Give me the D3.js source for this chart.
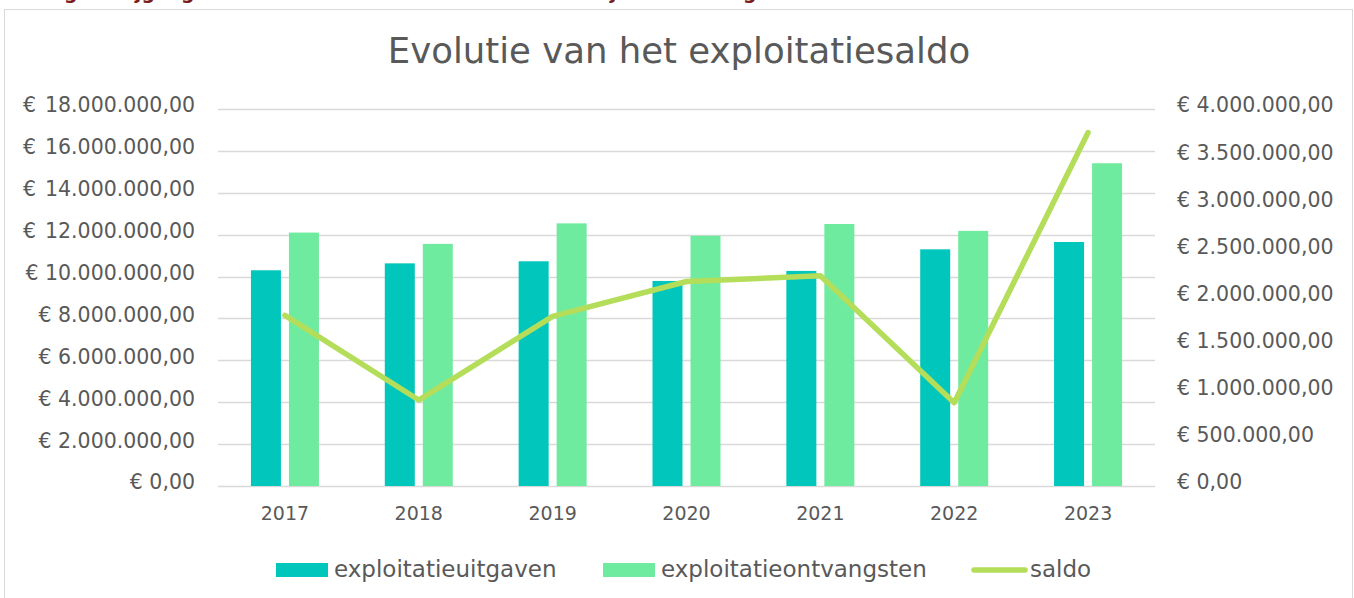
<!DOCTYPE html>
<html>
<head>
<meta charset="utf-8">
<script src="https://cdn.jsdelivr.net/npm/d3@7"></script>
<style>
    body { margin: 0; background: #fff; }
    svg { display: block; }
    text { font-family: "DejaVu Sans", sans-serif; fill: #595959; }
</style>
</head>
<body>
<div class="wrapper"></div>
<script>
let width = 1354;
let height = 598;

// data
let years = ["2017", "2018", "2019", "2020", "2021", "2022", "2023"];
let uitgaven = [10300000, 10630000, 10730000, 9790000, 10270000, 11300000, 11650000];
let ontvangsten = [12100000, 11560000, 12540000, 11950000, 12510000, 12180000, 15410000];
let saldo = [1810000, 912000, 1800000, 2170000, 2230000, 884000, 3750000];

let leftTicks = [0, 2e6, 4e6, 6e6, 8e6, 10e6, 12e6, 14e6, 16e6, 18e6];
let rightTicks = [0, 5e5, 1e6, 1.5e6, 2e6, 2.5e6, 3e6, 3.5e6, 4e6];

let seriesNames = ["exploitatieuitgaven", "exploitatieontvangsten", "saldo"];
let colors = ["#01c6bc", "#6feba0", "#b4dd5a"];

let plot = {left: 218, right: 1155, top: 109, bottom: 486};
let labelSize = "20.5px";

let nl = d3.formatLocale({decimal: ",", thousands: ".", grouping: [3], currency: ["€ ", ""]});
let euro = nl.format("$,.2f");
let num = nl.format(",.2f");

let svg = d3.select(".wrapper")
    .append("svg")
    .attr("width", width)
    .attr("height", height);

// cut-off heading above the chart frame (only descenders visible)
svg.append("text")
    .attr("y", -1)
    .style("fill", "#7a1c1c")
    .style("font-weight", "bold")
    .style("font-size", "19px")
    .selectAll("tspan")
    .data([["g", 64], ["jg", 135], ["g", 181], ["j", 610], ["g", 743]])
    .enter()
    .append("tspan")
    .attr("x", function (d) {return d[1]})
    .text(function (d) {return d[0]});

// chart frame
svg.append("rect")
    .attr("x", 4.5)
    .attr("y", 9.5)
    .attr("width", 1348)
    .attr("height", 600)
    .attr("fill", "#fff")
    .attr("stroke", "#d9d9d9");

svg.append("text")
    .attr("x", 679)
    .attr("y", 63)
    .attr("text-anchor", "middle")
    .style("font-size", "35.5px")
    .text("Evolutie van het exploitatiesaldo");

let x = d3.scaleBand()
    .domain(years)
    .range([plot.left, plot.right])
    .paddingInner(0.492)
    .paddingOuter(0.246);

let x1 = d3.scaleBand()
    .domain([0, 1])
    .range([0, x.bandwidth()])
    .paddingInner(8 / 38);

let yLeft = d3.scaleLinear().domain([0, 18e6]).range([plot.bottom, plot.top]);
let yRight = d3.scaleLinear().domain([0, 4e6]).range([plot.bottom, plot.top]);

// gridlines
svg.append("g")
    .selectAll("line")
    .data(leftTicks)
    .enter()
    .append("line")
    .attr("x1", plot.left)
    .attr("x2", plot.right)
    .attr("y1", function (d) {return Math.round(yLeft(d)) + 0.5})
    .attr("y2", function (d) {return Math.round(yLeft(d)) + 0.5})
    .attr("stroke", "#d9d9d9")
    .attr("stroke-width", 1.5);

// left axis labels
let leftLabels = svg.append("g")
    .selectAll("g")
    .data(leftTicks)
    .enter()
    .append("g")
    .attr("transform", function (d) {return "translate(0," + (yLeft(d) - 4) + ")"});

leftLabels.append("text")
    .attr("x", 195)
    .attr("dy", "0.36em")
    .attr("text-anchor", "end")
    .style("font-size", labelSize)
    .text(function (d) {return d >= 12e6 ? num(d) : euro(d)});

leftLabels.filter(function (d) {return d >= 12e6})
    .append("text")
    .attr("x", 23)
    .attr("dy", "0.36em")
    .style("font-size", labelSize)
    .text("€");

// right axis labels
svg.append("g")
    .selectAll("text")
    .data(rightTicks)
    .enter()
    .append("text")
    .attr("x", 1177)
    .attr("y", function (d) {return yRight(d) - 4})
    .attr("dy", "0.36em")
    .style("font-size", labelSize)
    .text(function (d) {return euro(d)});

// year labels
svg.append("g")
    .selectAll("text")
    .data(years)
    .enter()
    .append("text")
    .attr("x", function (d) {return x(d) + x.bandwidth() / 2})
    .attr("y", 520)
    .attr("text-anchor", "middle")
    .style("font-size", "19px")
    .text(function (d) {return d});

// bars
let bars = svg.append("g")
    .selectAll("g")
    .data(years)
    .enter()
    .append("g")
    .attr("transform", function (d) {return "translate(" + x(d) + ",0)"});

bars.selectAll("rect")
    .data(function (d, i) {return [uitgaven[i], ontvangsten[i]]})
    .enter()
    .append("rect")
    .attr("x", function (d, i) {return x1(i)})
    .attr("width", x1.bandwidth())
    .attr("y", function (d) {return yLeft(d)})
    .attr("height", function (d) {return yLeft(0) - yLeft(d)})
    .attr("fill", function (d, i) {return colors[i]});

// saldo line
let line = d3.line()
    .x(function (d, i) {return x(years[i]) + x.bandwidth() / 2})
    .y(function (d) {return yRight(d)});

svg.append("path")
    .datum(saldo)
    .attr("d", line)
    .attr("fill", "none")
    .attr("stroke", colors[2])
    .attr("stroke-width", 5.5)
    .attr("stroke-linejoin", "round")
    .attr("stroke-linecap", "round");

// legend
let legendItems = [
    {name: seriesNames[0], color: colors[0], x: 276, type: "bar"},
    {name: seriesNames[1], color: colors[1], x: 603, type: "bar"},
    {name: seriesNames[2], color: colors[2], x: 972, type: "line"}
];

let legend = svg.append("g")
    .selectAll("g")
    .data(legendItems)
    .enter()
    .append("g")
    .attr("transform", function (d) {return "translate(" + d.x + ",570)"});

legend.filter(function (d) {return d.type === "bar"})
    .append("rect")
    .attr("x", 0)
    .attr("y", -7)
    .attr("width", 52)
    .attr("height", 14)
    .attr("fill", function (d) {return d.color});

legend.filter(function (d) {return d.type === "line"})
    .append("line")
    .attr("x1", 2)
    .attr("x2", 53)
    .attr("stroke", function (d) {return d.color})
    .attr("stroke-width", 5.5)
    .attr("stroke-linecap", "round");

legend.append("text")
    .attr("x", 58)
    .attr("dy", "0.3em")
    .style("font-size", "23px")
    .text(function (d) {return d.name});
</script>
</body>
</html>
